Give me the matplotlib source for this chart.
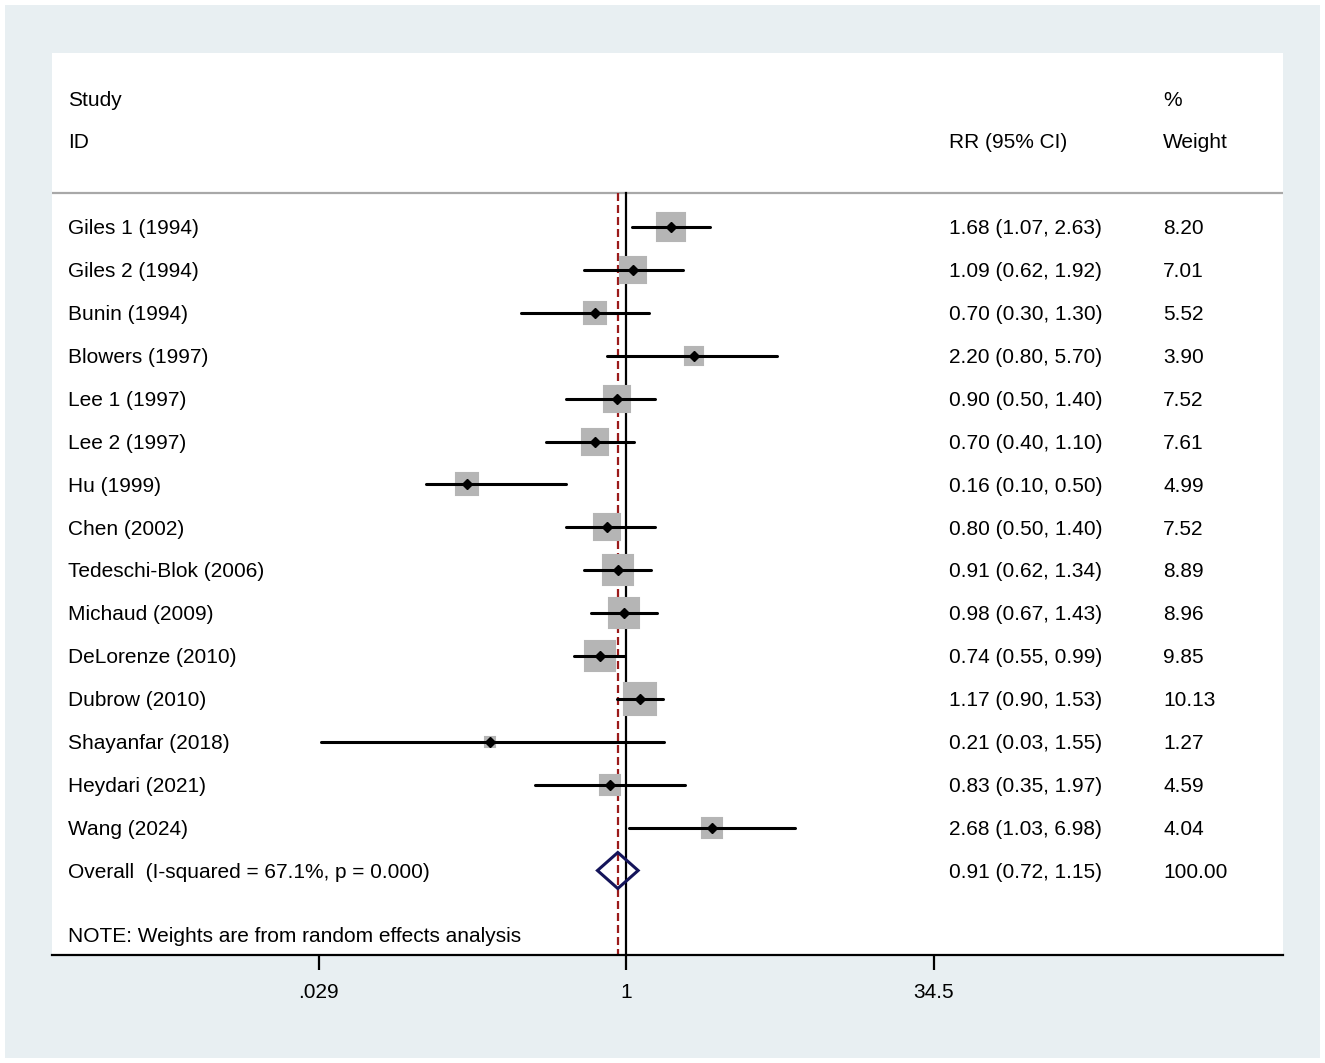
import matplotlib
matplotlib.use('Agg')
import matplotlib.pyplot as plt
from matplotlib.patches import Rectangle, Polygon
import numpy as np

plt.rcParams['font.family'] = ['Liberation Sans', 'DejaVu Sans']

studies = ["Giles 1 (1994)", "Giles 2 (1994)", "Bunin (1994)", "Blowers (1997)",
           "Lee 1 (1997)", "Lee 2 (1997)", "Hu (1999)", "Chen (2002)",
           "Tedeschi-Blok (2006)", "Michaud (2009)", "DeLorenze (2010)",
           "Dubrow (2010)", "Shayanfar (2018)", "Heydari (2021)", "Wang (2024)"]
rr = [1.68, 1.09, 0.70, 2.20, 0.90, 0.70, 0.16, 0.80, 0.91, 0.98, 0.74, 1.17, 0.21, 0.83, 2.68]
lo = [1.07, 0.62, 0.30, 0.80, 0.50, 0.40, 0.10, 0.50, 0.62, 0.67, 0.55, 0.90, 0.03, 0.35, 1.03]
hi = [2.63, 1.92, 1.30, 5.70, 1.40, 1.10, 0.50, 1.40, 1.34, 1.43, 0.99, 1.53, 1.55, 1.97, 6.98]
weights = [8.20, 7.01, 5.52, 3.90, 7.52, 7.61, 4.99, 7.52, 8.89, 8.96, 9.85, 10.13, 1.27, 4.59, 4.04]

overall_label = "Overall  (I-squared = 67.1%, p = 0.000)"
overall_rr, overall_lo, overall_hi = 0.91, 0.72, 1.15
overall_weight = 100.00
note = "NOTE: Weights are from random effects analysis"
xticks = [0.029, 1, 34.5]
xtick_labels = [".029", "1", "34.5"]

W, H = 1325, 1063
fig = plt.figure(figsize=(W / 100, H / 100), dpi=100)
fig.patch.set_facecolor("white")
bg = Rectangle((5 / W, 5 / H), 1315 / W, 1053 / H, transform=fig.transFigure,
               facecolor="#e8eff2", edgecolor="none", zorder=-10)
fig.add_artist(bg)

ax = fig.add_axes([52 / W, 1 - 955 / H, 1231 / W, 902 / H])
ax.set_zorder(1)
ax.set_facecolor("white")
ax.set_xscale("log")

# x scale: .029 and 34.5 sit symmetric about 1
ppu = (934 - 319) / (2 * np.log(34.5))
ax.set_xlim(np.exp((52 - 626) / ppu), np.exp((1283 - 626) / ppu))
row_h = 42.9
ax.set_ylim((955 - 227) / row_h, (53 - 227) / row_h)

n = len(studies)
rows = np.arange(n)
sep_y = (193 - 227) / row_h
ybot = (955 - 227) / row_h

# reference lines
ax.plot([1, 1], [sep_y, ybot], color="black", lw=1.6, zorder=2)
ax.plot([overall_rr, overall_rr], [sep_y, ybot], color="#9b1b1b", lw=1.6,
        dashes=(3.6, 1.8), zorder=2)
ax.axhline(sep_y, color="#a8a8a8", lw=1.6, zorder=1)

# study boxes, CIs, points
for y, r, l, h, w in zip(rows, rr, lo, hi, weights):
    side = 10.5 * np.sqrt(w) * 0.72
    ax.plot(r, y, marker="s", markersize=side - 1.5, color="#b5b5b5",
            markeredgecolor="#b5b5b5", markeredgewidth=1.5, zorder=3)
    ax.plot([l, h], [y, y], color="black", lw=2.2, solid_capstyle="round", zorder=4)
    ax.plot(r, y, marker="D", markersize=5, color="black", zorder=5)

# overall diamond
oy = n
dh = 18 / row_h
diamond = Polygon([[overall_lo, oy], [overall_rr, oy - dh], [overall_hi, oy], [overall_rr, oy + dh]],
                  closed=True, facecolor="none", edgecolor="#14145a", lw=2.2, zorder=5)
ax.add_patch(diamond)

# text columns
tr = ax.get_yaxis_transform()
fs = 15
dy = 0.04  # nudge text down a touch
x_name = (68 - 52) / 1231
x_rr = (949 - 52) / 1231
x_wt = (1163 - 52) / 1231


def put(x, y, s):
    ax.text(x, y + dy, s, transform=tr, fontsize=fs, va="center")


put(x_name, -3, "Study")
put(x_name, -2, "ID")
put(x_rr, -2, "RR (95% CI)")
put(x_wt, -3, "%")
put(x_wt, -2, "Weight")

for y, s, r, l, h, w in zip(rows, studies, rr, lo, hi, weights):
    put(x_name, y, s)
    put(x_rr, y, f"{r:.2f} ({l:.2f}, {h:.2f})")
    put(x_wt, y, f"{w:.2f}")

put(x_name, oy, overall_label)
put(x_rr, oy, f"{overall_rr:.2f} ({overall_lo:.2f}, {overall_hi:.2f})")
put(x_wt, oy, f"{overall_weight:.2f}")
put(x_name, (935 - 227) / row_h, note)

# axes styling
for side_name in ["top", "left", "right"]:
    ax.spines[side_name].set_visible(False)
ax.spines["bottom"].set_linewidth(1.6)
ax.set_yticks([])
ax.set_xticks(xticks)
ax.set_xticklabels(xtick_labels, fontsize=fs)
ax.minorticks_off()
ax.tick_params(axis="x", length=11, width=1.6, pad=9, direction="out")

fig.savefig("out.png", dpi=100)
